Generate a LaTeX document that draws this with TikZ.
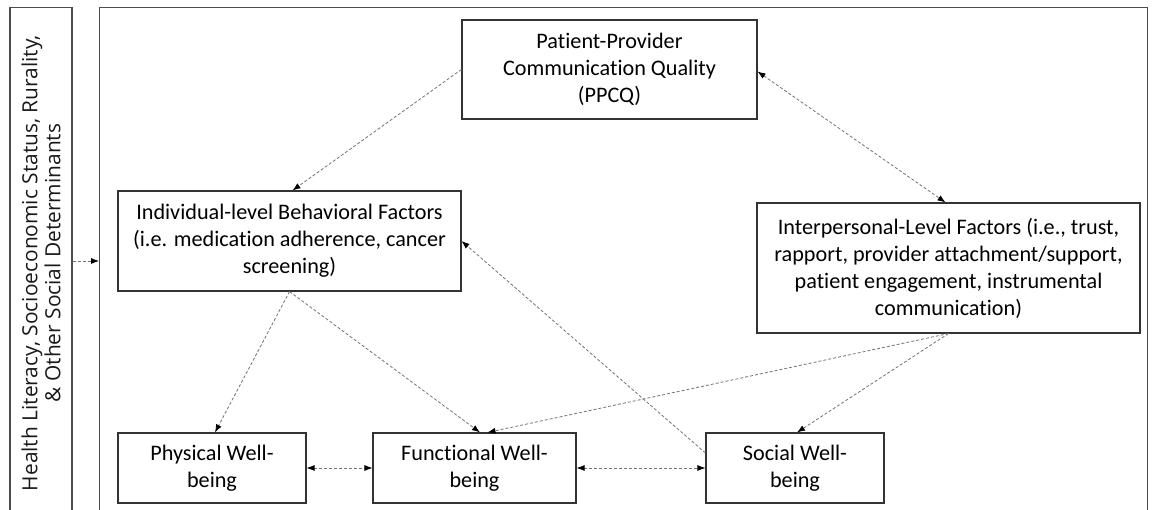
\documentclass[tikz,border=0pt]{standalone}
\usepackage{fontspec}
\setmainfont[Ligatures={NoCommon}]{Carlito}
\newfontfamily\sidefont{Open Sans}
\usetikzlibrary{arrows.meta,positioning,calc}
\tikzset{
  box/.style={draw=black!80, line width=1.1pt, align=center, inner sep=0pt,
    font=\fontsize{22.2}{27}\selectfont, text=black},
  frm/.style={draw=black!70, line width=1.1pt, inner sep=0pt},
  conn/.style={draw=black!55, line width=0.8pt, dash pattern=on 3pt off 2pt,
    -{Latex[length=8pt,width=6pt,color=black]}},
  bconn/.style={draw=black!55, line width=0.8pt, dash pattern=on 3pt off 2pt,
    {Latex[length=8pt,width=6pt,color=black]}-{Latex[length=8pt,width=6pt,color=black]}},
}
\begin{document}
\begin{tikzpicture}[x=1pt,y=-1pt]
\useasboundingbox (0,0) rectangle (1152,510);
% left side box and main frame (extend below the page)
\node[frm, minimum width=62pt, minimum height=530pt, anchor=north] (sdoh) at (41,7) {};
\node[font=\sidefont\fontsize{20.9}{23}\selectfont, text=black!90, align=center, rotate=90] (sdohtext) at (41,263)
  {Health Literacy, Socioeconomic Status, Rurality,\\ \& Other Social Determinants};
\node[frm, minimum width=1048pt, minimum height=530pt, anchor=north west] (frame) at (99,7) {};
\coordinate (ay) at (0,261);
% boxes
\node[box, minimum width=295pt, minimum height=99pt] (ppcq) at (609.5,69.5)
  {Patient-Provider\\Communication Quality\\(PPCQ)};
\node[box, minimum width=343pt, minimum height=100pt] (ind) at (289.5,241)
  {Individual-level Behavioral Factors\\(i.e. medication adherence, cancer\\screening)};
\node[box, minimum width=383pt, minimum height=130pt] (inter) at (948.5,268)
  {Interpersonal-Level Factors (i.e., trust,\\rapport, provider attachment/support,\\patient engagement, instrumental\\communication)};
\node[box, minimum width=188pt, minimum height=70pt] (phys) at (212,468)
  {Physical Well-\\being};
\node[box, minimum width=203pt, minimum height=70pt] (func) at (474.5,468)
  {Functional Well-\\being};
\node[box, minimum width=178pt, minimum height=70pt] (soc) at (795,468)
  {Social Well-\\being};
% connectors
\draw[conn] (sdoh.east |- ay) -- (frame.west |- ay);
\draw[conn] (ppcq.west) -- ([xshift=3pt]ind.north);
\draw[bconn] ([yshift=-2pt]ppcq.east) -- ([xshift=-3pt]inter.north);
\draw[conn] (ind.south) -- ([xshift=3pt]phys.north);
\draw[conn] (ind.south) -- ([xshift=5.5pt]func.north);
\draw[conn] (inter.south) -- ([xshift=13pt]func.north);
\draw[conn] (inter.south) -- ([xshift=2pt]soc.north);
\draw[conn] ([yshift=15pt]soc.west) -- (ind.east);
\draw[bconn] (phys.east) -- (func.west);
\draw[bconn] (func.east) -- (soc.west);
\end{tikzpicture}
\end{document}
